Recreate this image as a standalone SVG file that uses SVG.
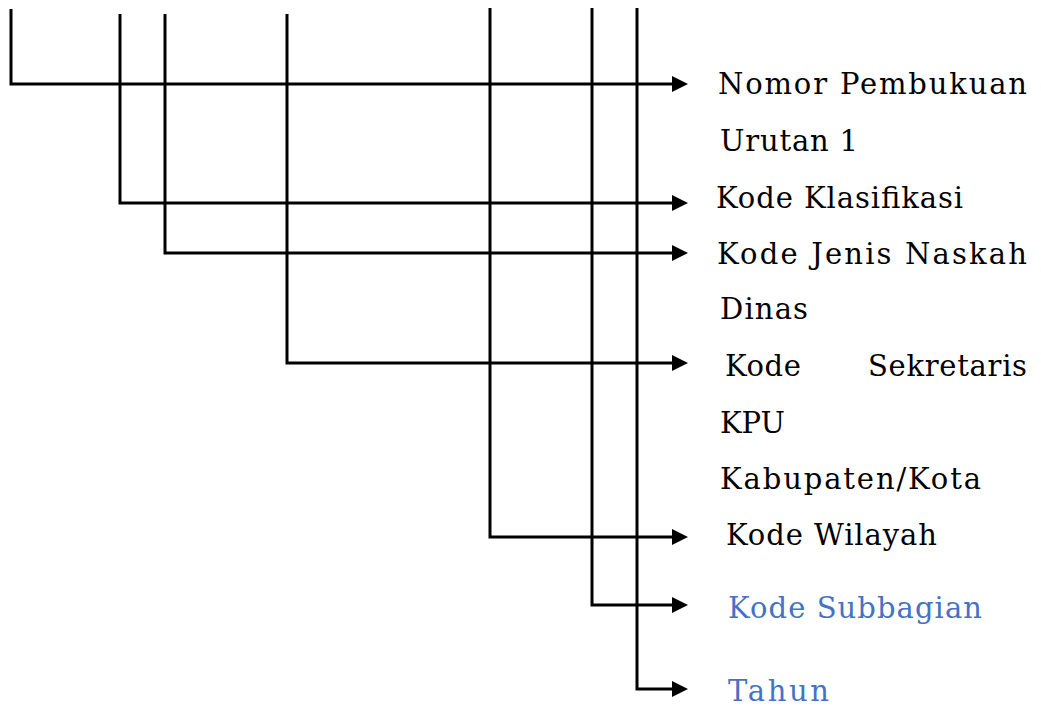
<svg xmlns="http://www.w3.org/2000/svg" width="1041" height="708" viewBox="0 0 1041 708">
<style>
.c{fill:none;stroke:#000;stroke-width:3;stroke-linejoin:miter}
.t{font-family:"DejaVu Serif","Liberation Serif",serif;font-size:29px;fill:#000}
.b{fill:#4472C4}
</style>
<defs>
<marker id="ah" viewBox="0 0 16 16" markerWidth="16" markerHeight="16" refX="0" refY="8" orient="auto" markerUnits="userSpaceOnUse">
<path d="M0,0 L16,8 L0,16 z" fill="#000"/>
</marker>
</defs>
<rect width="1041" height="708" fill="#fff"/>
<g id="connectors">
<polyline class="c" points="11,9 11,84 672,84" marker-end="url(#ah)"/>
<polyline class="c" points="120,14 120,203 672,203" marker-end="url(#ah)"/>
<polyline class="c" points="165,14 165,253 672,253" marker-end="url(#ah)"/>
<polyline class="c" points="287,14 287,363 672,363" marker-end="url(#ah)"/>
<polyline class="c" points="490,8 490,537 672,537" marker-end="url(#ah)"/>
<polyline class="c" points="592,8 592,605 672,605" marker-end="url(#ah)"/>
<polyline class="c" points="637,8 637,689 672,689" marker-end="url(#ah)"/>
</g>
<g id="n1"><text class="t" x="718" y="94" textLength="309" lengthAdjust="spacing">Nomor Pembukuan</text>
<text class="t" x="720" y="151" textLength="138" lengthAdjust="spacing">Urutan 1</text></g>
<g id="n2"><text class="t" x="716" y="208" textLength="247" lengthAdjust="spacing">Kode Klasifikasi</text></g>
<g id="n3"><text class="t" x="717" y="264" textLength="310" lengthAdjust="spacing">Kode Jenis Naskah</text>
<text class="t" x="720" y="319" textLength="88" lengthAdjust="spacing">Dinas</text></g>
<g id="n4"><text class="t" x="725" y="376" textLength="76" lengthAdjust="spacing">Kode</text>
<text class="t" x="868" y="376" textLength="159" lengthAdjust="spacing">Sekretaris</text>
<text class="t" x="720" y="433" textLength="65" lengthAdjust="spacing">KPU</text>
<text class="t" x="720" y="489" textLength="261" lengthAdjust="spacing">Kabupaten/Kota</text></g>
<g id="n5"><text class="t" x="726" y="545" textLength="211" lengthAdjust="spacing">Kode Wilayah</text></g>
<g id="n6"><text class="t b" x="728" y="618" textLength="254" lengthAdjust="spacing">Kode Subbagian</text></g>
<g id="n7"><text class="t b" x="728" y="701" textLength="101" lengthAdjust="spacing">Tahun</text></g>
</svg>
